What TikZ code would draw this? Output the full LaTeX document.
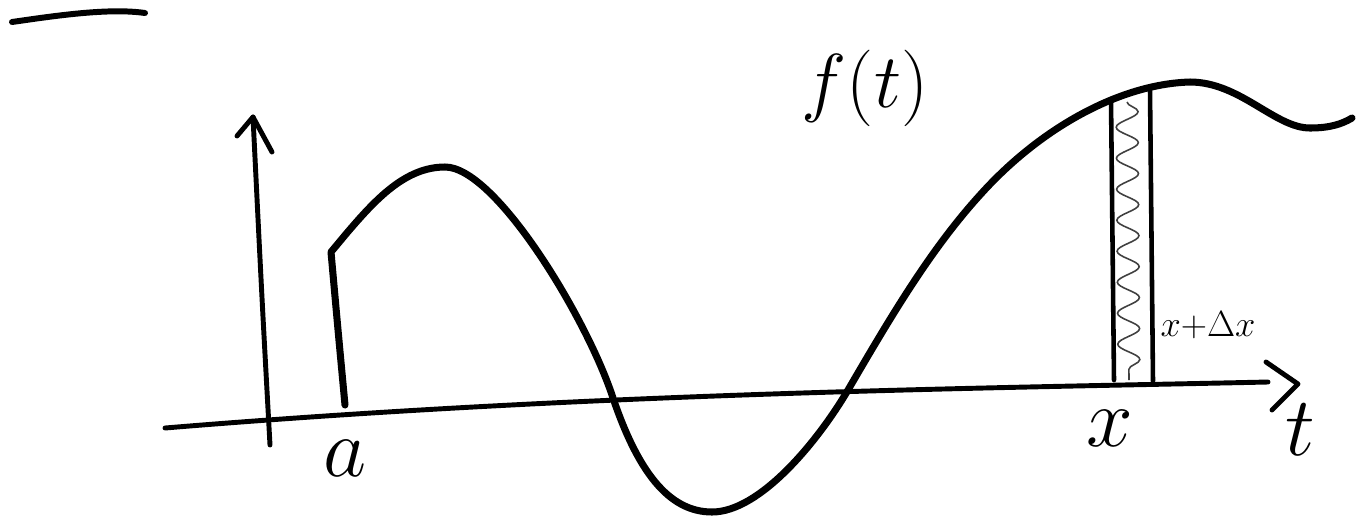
\documentclass[tikz,border=0pt]{standalone}
\usepackage{graphicx}
\usepackage{tikz}
\usetikzlibrary{decorations.pathmorphing}

\begin{document}
\begin{tikzpicture}[x=0.02cm, y=-0.02cm,
    axis/.style={line width=2.8pt, line cap=round, line join=round},
    curve/.style={line width=4pt, line cap=round, line join=round},
    strip/.style={line width=2.6pt, line cap=round},
    wiggle/.style={line width=0.9pt, black!75, decorate,
        decoration={snake, amplitude=0.22cm, segment length=0.62cm}},
    big/.style={inner sep=0pt, font=\fontsize{20}{24}\selectfont},
    small/.style={inner sep=0pt, font=\fontsize{20}{24}\selectfont}
]
    \useasboundingbox (0,0) rectangle (1367,515);

    % stray stroke, top left
    \draw[curve, line width=3.4pt] (12,22) .. controls (60,15) and (110,8) .. (145,13);

    % axes
    \coordinate (o) at (270,445);
    \coordinate (ytop) at (253,117);
    \coordinate (xl) at (165,428);
    \coordinate (xr) at (1268,382);
    \draw[axis] (o) .. controls (262,300) .. (ytop);
    \draw[axis] (237,136) -- (ytop) -- (272,152);
    \draw[axis] (xl) .. controls (600,392) and (1000,388) .. (xr);
    \draw[axis] (1266,362) -- (1298,384) -- (1272,410);

    % the function
    \coordinate (start) at (345,405);
    \coordinate (top) at (445,167);
    \coordinate (low) at (712,512);
    \draw[curve] (start) .. controls (338,330) .. (331,252) -- (346,234)
        .. controls (375,200) and (405,167) .. (top)
        .. controls (495,167) and (585,315) .. (612,395)
        .. controls (637,470) and (668,512) .. (low)
        .. controls (760,512) and (818,441) .. (848,390)
        .. controls (890,318) and (930,250) .. (980,195)
        .. controls (1040,128) and (1120,84) .. (1190,82)
        .. controls (1240,82) and (1275,128) .. (1310,128)
        .. controls (1330,128) and (1342,124) .. (1352,118);

    % strip from x to x+dx
    \coordinate (sl) at (1111,99);
    \coordinate (sr) at (1150,90);
    \draw[strip] (sl) -- (1114,380);
    \draw[strip] (sr) -- (1153,381);
    \draw[wiggle] (1127,102) -- (1129,380);

    % labels
    \node[big] (fun) at (865,88) {\scalebox{2.1}{$f(t)$}};
    \node[big] (a) at (345,458) {\scalebox{2.3}{$a$}};
    \node[big] (x) at (1110,428) {\scalebox{2.3}{$x$}};
    \node[big] (t) at (1300,430) {\scalebox{2.3}{$t$}};
    \node[small] (dx) at (1208,325) {$x{+}\Delta x$};
\end{tikzpicture}
\end{document}
